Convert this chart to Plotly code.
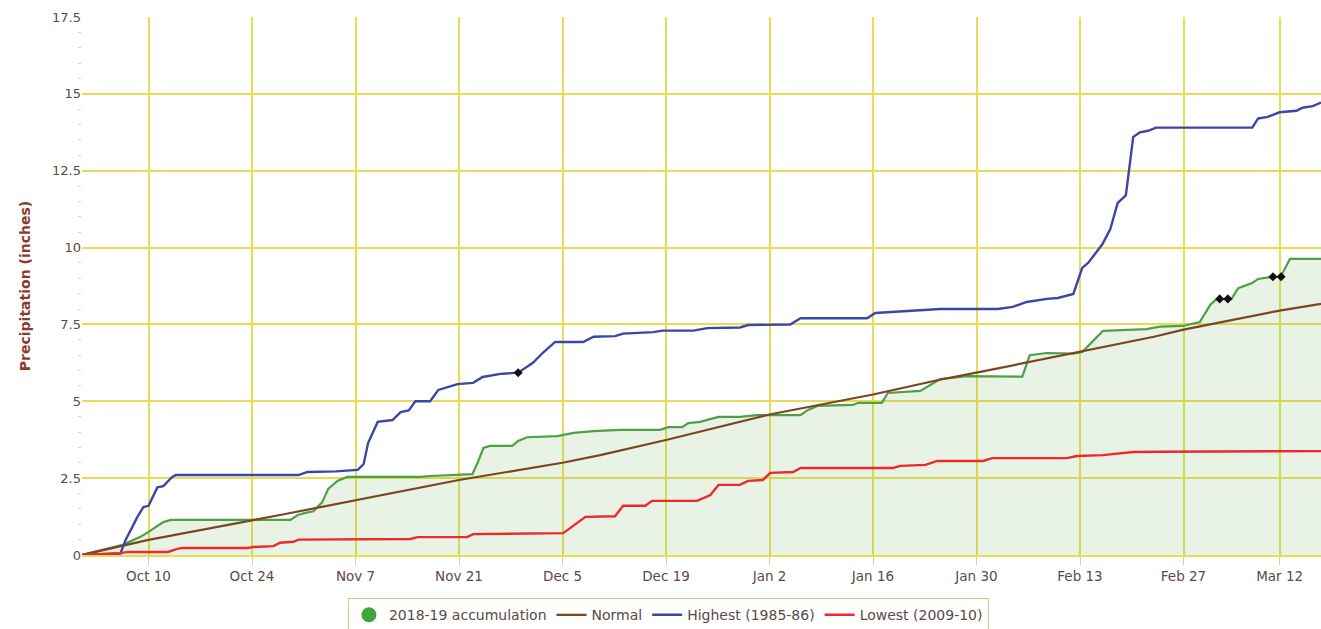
import pandas as pd
import plotly.graph_objects as go

START = "2018-10-01"

# day offsets from Oct 1 2018 and accumulated precipitation (inches)
acc_days = [0, 5.5, 7.9, 9.0, 11.0, 12.0, 28.2, 29.2, 30.2, 31.3, 32.5, 33.3, 34.6, 35.9,
            45.8, 47.1, 52.8, 53.5, 54.3, 55.2, 58.2, 59.0, 60.2, 64.3, 66.5, 69.2, 72.8,
            78.2, 79.3, 81.2, 82.0, 83.6, 86.1, 89.0, 91.3, 97.2, 98.2, 99.5, 104.3, 105.0,
            108.2, 109.0, 113.4, 114.8, 116.1, 119.7, 127.2, 128.2, 130.5, 134.1, 135.3,
            138.1, 142.2, 144.0, 145.8, 148.9, 151.2, 152.6, 153.5, 155.5, 156.4, 157.6,
            158.3, 159.1, 160.7, 162.2, 162.4, 163.4, 167.6]
acc_vals = [0.0, 0.33, 0.59, 0.75, 1.07, 1.14, 1.14, 1.30, 1.37, 1.42, 1.72, 2.15, 2.42, 2.54,
            2.54, 2.57, 2.63, 2.99, 3.48, 3.55, 3.55, 3.71, 3.83, 3.87, 3.97, 4.03, 4.07,
            4.07, 4.16, 4.16, 4.29, 4.33, 4.49, 4.49, 4.55, 4.55, 4.72, 4.85, 4.88, 4.95,
            4.95, 5.27, 5.34, 5.55, 5.72, 5.82, 5.80, 6.50, 6.57, 6.55, 6.60,
            7.29, 7.32, 7.35, 7.43, 7.45, 7.58, 8.13, 8.33, 8.33, 8.68, 8.78,
            8.85, 8.98, 9.04, 9.05, 9.17, 9.63, 9.63]

normal_days = [0, 9, 26.8, 37.7, 51, 65, 70.1, 79, 93, 107, 116, 121, 135, 145, 149, 162, 167.6]
normal_vals = [0.0, 0.49, 1.30, 1.82, 2.44, 3.00, 3.25, 3.74, 4.57, 5.22, 5.70, 5.93, 6.60,
               7.10, 7.33, 7.95, 8.17]

high_days = [0, 5.2, 5.9, 7.5, 8.3, 9.0, 10.2, 11.0, 12.2, 12.7, 29.3, 30.5, 34.3, 37.3, 38.1,
             38.7, 40.0, 42.0, 43.1, 44.2, 45.1, 47.1, 48.2, 50.8, 52.9, 54.2, 56.6, 58.4,
             59.0, 61.0, 62.3, 64.0, 67.8, 69.2, 72.1, 73.2, 77.3, 78.5, 82.7, 84.6, 89.0,
             90.1, 95.8, 97.2, 106.2, 107.3, 109.3, 116.1, 123.9, 125.9, 127.8, 130.5, 132.0,
             134.1, 135.3, 136.1, 138.0, 139.1, 140.1, 141.2, 142.2, 143.1, 144.2, 145.3,
             158.3, 159.1, 160.4, 162.0, 164.3, 165.1, 166.5, 167.6]
high_vals = [0.0, 0.05, 0.49, 1.24, 1.56, 1.60, 2.20, 2.24, 2.54, 2.60, 2.60, 2.70, 2.72, 2.77,
             2.96, 3.64, 4.33, 4.39, 4.65, 4.70, 5.00, 5.00, 5.37, 5.56, 5.60, 5.79, 5.89, 5.92,
             5.93, 6.25, 6.57, 6.93, 6.93, 7.10, 7.12, 7.20, 7.25, 7.30, 7.30, 7.38, 7.40,
             7.48, 7.50, 7.70, 7.70, 7.87, 7.90, 8.00, 8.00, 8.07, 8.23, 8.33, 8.36,
             8.49, 9.34, 9.50, 10.10, 10.60, 11.45, 11.70, 13.60, 13.75, 13.80, 13.90,
             13.90, 14.20, 14.25, 14.40, 14.45, 14.55, 14.60, 14.72]

low_days = [0, 5.2, 6.2, 11.6, 12.9, 13.6, 22.4, 23.2, 25.9, 26.8, 28.6, 29.3, 44.4, 45.4,
            52.1, 52.9, 65.1, 66.3, 68.1, 72.1, 73.2, 76.2, 77.1, 83.2, 85.0, 86.1, 89.0,
            90.1, 92.1, 93.1, 96.2, 97.2, 109.7, 110.7, 114.1, 115.7, 121.9, 123.1, 133.2,
            134.6, 138.1, 142.2, 145.8, 167.6]
low_vals = [0.0, 0.06, 0.10, 0.10, 0.20, 0.23, 0.23, 0.26, 0.29, 0.40, 0.43, 0.50, 0.52, 0.58,
            0.58, 0.68, 0.71, 0.91, 1.24, 1.26, 1.60, 1.60, 1.76, 1.76, 1.95, 2.28, 2.28,
            2.41, 2.44, 2.67, 2.70, 2.83, 2.83, 2.90, 2.93, 3.06, 3.06, 3.15, 3.15,
            3.22, 3.25, 3.35, 3.36, 3.38]

flag_days = [153.9, 155.0, 161.1, 162.2, 59.0]
flag_vals = [8.33, 8.33, 9.05, 9.05, 5.93]

tick_dates = ["2018-10-10", "2018-10-24", "2018-11-07", "2018-11-21", "2018-12-05",
              "2018-12-19", "2019-01-02", "2019-01-16", "2019-01-30", "2019-02-13",
              "2019-02-27", "2019-03-12"]
tick_labels = ["Oct 10", "Oct 24", "Nov 7", "Nov 21", "Dec 5", "Dec 19", "Jan 2", "Jan 16",
               "Jan 30", "Feb 13", "Feb 27", "Mar 12"]
end_day = 167.6

base = pd.Timestamp(START)


def to_dates(days):
    return [base + pd.to_timedelta(d, unit="D") for d in days]


GREEN = "#4f9f45"
BROWN = "#7b4520"
BLUE = "#3b46a8"
RED = "#ec2a2a"
GRID = "#e9dc55"
TXT = "#5b4a44"

fig = go.Figure()
fig.add_trace(go.Scatter(x=to_dates(acc_days), y=acc_vals, mode="lines", fill="tozeroy",
                         fillcolor="rgba(110,180,95,0.16)", line=dict(color=GREEN, width=2.2),
                         showlegend=False, name="2018-19 accumulation"))
fig.add_trace(go.Scatter(x=[None], y=[None], mode="markers", name="2018-19 accumulation",
                         marker=dict(symbol="circle", size=15, color="#3fa63a")))
fig.add_trace(go.Scatter(x=to_dates(normal_days), y=normal_vals, mode="lines", name="Normal",
                         line=dict(color=BROWN, width=2.2)))
fig.add_trace(go.Scatter(x=to_dates(high_days), y=high_vals, mode="lines",
                         name="Highest (1985-86)", line=dict(color=BLUE, width=2.4)))
fig.add_trace(go.Scatter(x=to_dates(low_days), y=low_vals, mode="lines",
                         name="Lowest (2009-10)", line=dict(color=RED, width=2.4)))
fig.add_trace(go.Scatter(x=to_dates(flag_days), y=flag_vals, mode="markers", showlegend=False,
                         marker=dict(symbol="diamond", size=7, color="#111111")))

fig.update_layout(
    width=1321, height=629,
    margin=dict(l=82, r=0, t=17, b=74, autoexpand=False),
    paper_bgcolor="white", plot_bgcolor="white",
    font=dict(family="DejaVu Sans", size=13, color=TXT),
    legend=dict(orientation="h", xref="container", yref="container",
                x=0.506, xanchor="center", y=0.049, yanchor="top",
                bordercolor="#d9c48f", borderwidth=1, bgcolor="white",
                font=dict(size=14, color=TXT), itemwidth=30, tracegroupgap=0),
)
fig.update_xaxes(
    type="date", range=[base, base + pd.to_timedelta(end_day, unit="D")],
    tickvals=pd.to_datetime(tick_dates), ticktext=tick_labels,
    showgrid=True, gridcolor=GRID, gridwidth=1.5,
    ticks="outside", ticklen=8, tickcolor="#dccb9c",
    showline=True, linecolor=GRID, linewidth=1.5,
    tickfont=dict(size=13.5, color=TXT), zeroline=False, automargin=False,
)
fig.update_yaxes(
    range=[0, 17.5], dtick=2.5, tick0=0,
    showgrid=True, gridcolor=GRID, gridwidth=1.5, zeroline=False,
    tickfont=dict(size=13, color=TXT), automargin=False,
    ticks="", minor=dict(dtick=0.5, ticks="outside", ticklen=3, tickcolor="#d5d5d5"),
    title=dict(text="<b>Precipitation (inches)</b>", font=dict(size=14, color="#8a3a2c"),
               standoff=18),
)

fig.write_html("out.html", post_script="document.body.style.margin='0px';",
               config={"displayModeBar": False})
